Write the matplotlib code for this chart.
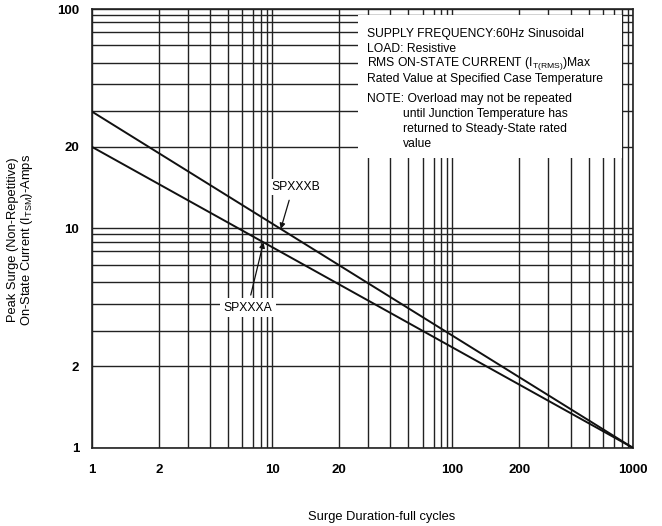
import numpy as np
import matplotlib
matplotlib.use("Agg")
import matplotlib.pyplot as plt
from matplotlib.ticker import FixedLocator, FuncFormatter
from matplotlib.patches import Rectangle

# ---------------- data ----------------
cycles_b = [1, 1000]
amps_b = [30, 1]
cycles_a = [1, 1000]
amps_a = [20, 1]

x_labels = [1, 2, 10, 20, 100, 200, 1000]
y_labels = [1, 2, 10, 20, 100]

note_lines = [
    "SUPPLY FREQUENCY:60Hz Sinusoidal",
    "LOAD: Resistive",
    "RMS ON-STATE CURRENT (I$\\mathregular{_{T(RMS)}}$)Max",
    "Rated Value at Specified Case Temperature",
]
note2 = "NOTE: Overload may not be repeated"
note2_cont = [
    "until Junction Temperature has",
    "returned to Steady-State rated",
    "value",
]

# ---------------- chart-paper scale (distorted log paper) ----------------
M = np.arange(1, 11, dtype=float)
F = np.array([0.0, 0.372, 0.533, 0.656, 0.756, 0.835, 0.896, 0.939, 0.973, 1.0])


def fwd(v):
    v = np.asarray(v, dtype=float)
    with np.errstate(divide="ignore", invalid="ignore"):
        lv = np.log10(np.where(v > 0, v, np.nan))
        d = np.floor(lv + 1e-9)
        m = np.clip(v / 10.0 ** d, 1, 10)
        return d + np.interp(m, M, F)


def inv(u):
    u = np.asarray(u, dtype=float)
    d = np.floor(u + 1e-9)
    f = np.clip(u - d, 0, 1)
    return 10.0 ** d * np.interp(f, F, M)


plt.rcParams["font.family"] = ["Liberation Sans", "DejaVu Sans"]

fig = plt.figure(figsize=(6.62, 5.26), dpi=100)
ax = fig.add_axes([91.7 / 662, 1 - 447.7 / 526, 541 / 662, 438.7 / 526])
ax.set_xscale("function", functions=(fwd, inv))
ax.set_yscale("function", functions=(fwd, inv))

ax.plot(cycles_b, amps_b, color="#111111", lw=1.4, zorder=4)
ax.plot(cycles_a, amps_a, color="#111111", lw=1.4, zorder=4)

ax.set_xlim(1, 1000)
ax.set_ylim(1, 100)

xgrid = [m * 10 ** d for d in range(3) for m in range(1, 10)] + [1000]
ygrid = [m * 10 ** d for d in range(2) for m in range(1, 10)] + [100]
ax.xaxis.set_major_locator(FixedLocator(xgrid))
ax.yaxis.set_major_locator(FixedLocator(ygrid))
ax.xaxis.set_minor_locator(FixedLocator([]))
ax.yaxis.set_minor_locator(FixedLocator([]))


def make_fmt(keep):
    def f(v, pos):
        for k in keep:
            if abs(v - k) < 1e-6 * k:
                return str(k)
        return ""
    return f


ax.xaxis.set_major_formatter(FuncFormatter(make_fmt(x_labels)))
ax.yaxis.set_major_formatter(FuncFormatter(make_fmt(y_labels)))
ax.tick_params(axis="both", length=0, labelsize=9.5)
ax.tick_params(axis="x", pad=12)
ax.tick_params(axis="y", pad=9)
for lab in ax.get_xticklabels() + ax.get_yticklabels():
    lab.set_fontweight("bold")

ax.grid(True, color="#222222", lw=1.0, zorder=1)
ax.set_axisbelow(True)
for s in ax.spines.values():
    s.set_color("#222222")
    s.set_linewidth(1.2)

# white note box
ax.add_patch(Rectangle((0.492, 0.66), 0.488, 0.326, transform=ax.transAxes,
                       facecolor="white", edgecolor="none", zorder=2))
ty = 0.943
dy = 0.034
for i, t in enumerate(note_lines):
    ax.text(0.508, ty - i * dy, t, transform=ax.transAxes, fontsize=8.7,
            va="center", ha="left", zorder=5)
ty2 = 0.795
ax.text(0.508, ty2, note2, transform=ax.transAxes, fontsize=8.7,
        va="center", ha="left", zorder=5)
for i, t in enumerate(note2_cont):
    ax.text(0.575, ty2 - (i + 1) * dy, t, transform=ax.transAxes,
            fontsize=8.7, va="center", ha="left", zorder=5)


def on_line(xs, ys, xq):
    u = (fwd(xq) - fwd(xs[0])) / (fwd(xs[1]) - fwd(xs[0]))
    return float(inv(fwd(ys[0]) + u * (fwd(ys[1]) - fwd(ys[0]))))


xb = 11.3
ax.annotate("", xy=(xb, on_line(cycles_b, amps_b, xb)), xytext=(0.365, 0.564),
            textcoords="axes fraction",
            arrowprops=dict(arrowstyle="-|>", color="#111111", lw=0.9,
                            mutation_scale=8, shrinkA=0, shrinkB=0), zorder=5)
ax.text(0.378, 0.594, "SPXXXB", transform=ax.transAxes, fontsize=8.7,
        ha="center", va="center", zorder=5,
        bbox=dict(facecolor="white", edgecolor="none", pad=1.5))

xa = 8.4
ax.annotate("", xy=(xa, on_line(cycles_a, amps_a, xa)), xytext=(0.294, 0.348),
            textcoords="axes fraction",
            arrowprops=dict(arrowstyle="-|>", color="#111111", lw=0.9,
                            mutation_scale=8, shrinkA=0, shrinkB=0), zorder=5)
ax.text(0.289, 0.319, "SPXXXA", transform=ax.transAxes, fontsize=8.7,
        ha="center", va="center", zorder=5,
        bbox=dict(facecolor="white", edgecolor="none", pad=2.5))

fig.text(382 / 662, 1 - 517 / 526, "Surge Duration-full cycles", fontsize=9.3,
         ha="center", va="center")
fig.text(21 / 662, 1 - 240 / 526,
         "Peak Surge (Non-Repetitive)\nOn-State Current (I$\\mathregular{_{TSM}}$)-Amps",
         fontsize=9.3, rotation=90, ha="center", va="center", linespacing=1.05)

fig.savefig("out.png", dpi=100)
